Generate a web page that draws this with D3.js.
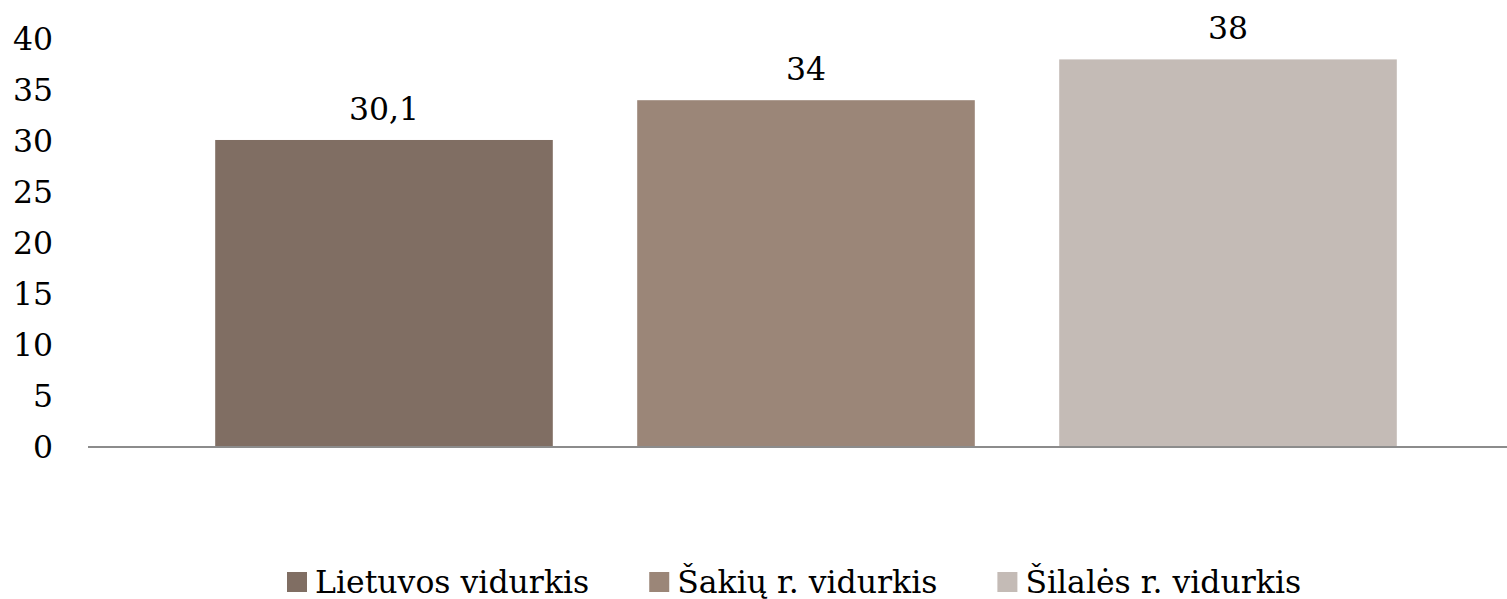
<!DOCTYPE html>
<html>
<head>
<meta charset="utf-8">
<script src="https://cdn.jsdelivr.net/npm/d3@7"></script>
<style>
  body { margin: 0; background: #fff; }
  text { font-family: "DejaVu Serif", serif; font-size: 31.5px; fill: #000; }
</style>
</head>
<body>
<script>
// chart data
var categories = ["Lietuvos vidurkis", "Šakių r. vidurkis", "Šilalės r. vidurkis"];
var values = [30.1, 34, 38];
var valueLabels = ["30,1", "34", "38"];
var colors = ["#806e63", "#9b8678", "#c4bbb6"];
var yTicks = [0, 5, 10, 15, 20, 25, 30, 35, 40];

var width = 1507, height = 599;

var svg = d3.select("body").append("svg")
    .attr("width", width)
    .attr("height", height);

// scales
var x = d3.scaleBand()
    .domain(categories)
    .range([173, 1439])
    .paddingInner(0.2)
    .paddingOuter(0.1);

var y = d3.scaleLinear()
    .domain([0, 40])
    .range([447, 39]);

// y tick labels (no axis line in the original)
var yAxis = svg.append("g")
    .attr("transform", "translate(53,0)")
    .call(d3.axisLeft(y).tickValues(yTicks).tickSize(0).tickPadding(0));
yAxis.select(".domain").remove();
yAxis.selectAll("text")
    .attr("fill", "#000")
    .style("font-family", "'DejaVu Serif', serif")
    .style("font-size", "31.5px");

// bars
svg.selectAll(".bar")
    .data(values)
    .enter().append("rect")
    .attr("class", "bar")
    .attr("x", function(d, i) { return x(categories[i]); })
    .attr("y", function(d) { return y(d); })
    .attr("width", x.bandwidth())
    .attr("height", function(d) { return y(0) - y(d); })
    .attr("fill", function(d, i) { return colors[i]; });

// value labels
svg.selectAll(".val")
    .data(values)
    .enter().append("text")
    .attr("class", "val")
    .attr("x", function(d, i) { return x(categories[i]) + x.bandwidth() / 2; })
    .attr("y", function(d) { return y(d) - 20; })
    .attr("text-anchor", "middle")
    .text(function(d, i) { return valueLabels[i]; });

// baseline
svg.append("line")
    .attr("x1", 88).attr("x2", width)
    .attr("y1", y(0)).attr("y2", y(0))
    .attr("stroke", "#8c8c8c")
    .attr("stroke-width", 2);

// legend
var legend = svg.append("g");
var lx = 287;
categories.forEach(function(c, i) {
  legend.append("rect")
      .attr("x", lx).attr("y", 572)
      .attr("width", 20).attr("height", 20)
      .attr("fill", colors[i]);
  var t = legend.append("text")
      .attr("x", lx + 28)
      .attr("y", 593)
      .text(c);
  lx = lx + 28 + t.node().getComputedTextLength() + 60;
});
</script>
</body>
</html>
